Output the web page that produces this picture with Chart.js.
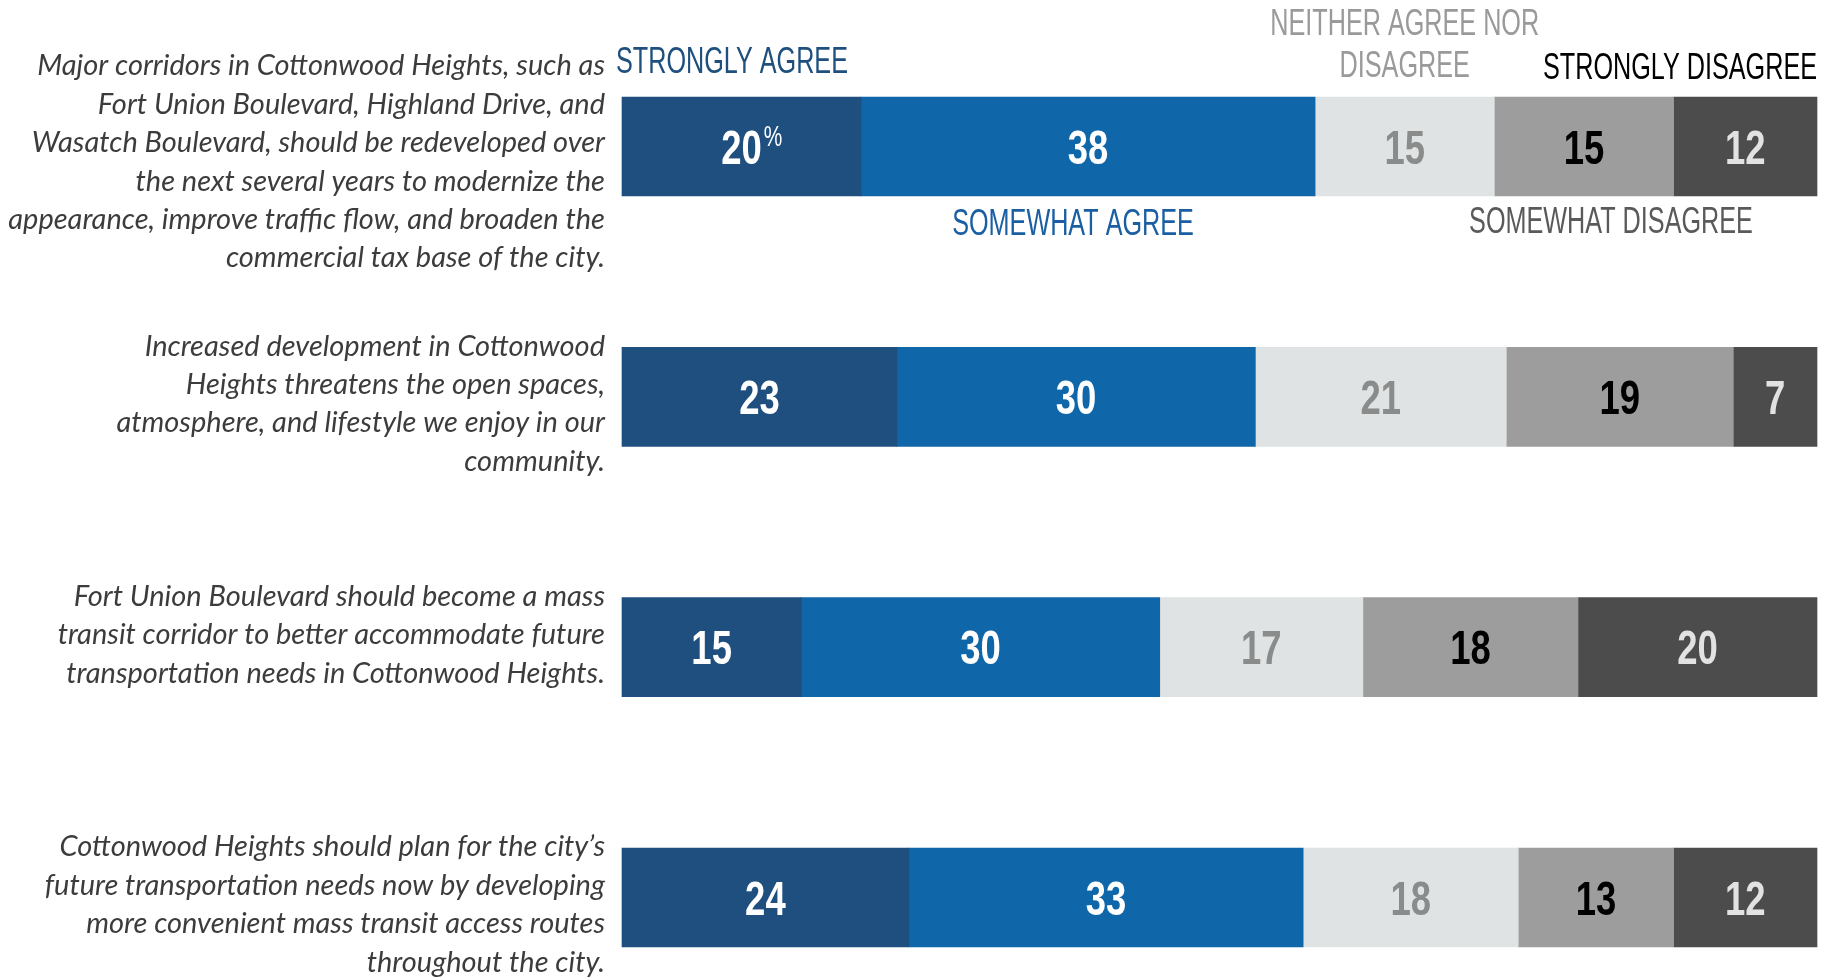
<!DOCTYPE html>
<html>
<head>
<meta charset="utf-8">
<script src="https://cdn.jsdelivr.net/npm/chart.js@4.4.1/dist/chart.umd.min.js"></script>
<style>
  html, body { margin: 0; padding: 0; background: #fff; }
  #wrap { width: 1836px; height: 977px; position: relative; }
</style>
</head>
<body>
<div id="wrap"><canvas id="chart"></canvas></div>
<script>
// questions (one per bar), split into the lines shown
const questions = [
  ['Major corridors in Cottonwood Heights, such as',
   'Fort Union Boulevard, Highland Drive, and',
   'Wasatch Boulevard, should be redeveloped over',
   'the next several years to modernize the',
   'appearance, improve traffic flow, and broaden the',
   'commercial tax base of the city.'],
  ['Increased development in Cottonwood',
   'Heights threatens the open spaces,',
   'atmosphere, and lifestyle we enjoy in our',
   'community.'],
  ['Fort Union Boulevard should become a mass',
   'transit corridor to better accommodate future',
   'transportation needs in Cottonwood Heights.'],
  ['Cottonwood Heights should plan for the city\u2019s',
   'future transportation needs now by developing',
   'more convenient mass transit access routes',
   'throughout the city.']
];

const responses = ['STRONGLY AGREE', 'SOMEWHAT AGREE', 'NEITHER AGREE NOR DISAGREE', 'SOMEWHAT DISAGREE', 'STRONGLY DISAGREE'];

// percent per response, one value per question
const stronglyAgree    = [20, 23, 15, 24];
const somewhatAgree    = [38, 30, 30, 33];
const neither          = [15, 21, 17, 18];
const somewhatDisagree = [15, 19, 18, 13];
const stronglyDisagree = [12, 7, 20, 12];

const barColors   = ['#1e4f7e', '#0f66a8', '#dfe3e4', '#9c9d9c', '#4b4c4b'];
const valueColors = ['#ffffff', '#ffffff', '#8a8c8b', '#000000', '#e2e2e2'];
const headColors  = ['#1e4f7e', '#1a5fa3', '#9a9a9a', '#5a5a5a', '#000000'];

const series = [stronglyAgree, somewhatAgree, neither, somewhatDisagree, stronglyDisagree];

// draw horizontally squeezed text (stand-in for a condensed face)
function condensed(ctx, text, x, y, font, sx, align, color) {
  ctx.save();
  ctx.font = font;
  ctx.fillStyle = color;
  ctx.textBaseline = 'alphabetic';
  const w = ctx.measureText(text).width * sx;
  let left = x;
  if (align === 'center') left = x - w / 2;
  else if (align === 'right') left = x - w;
  ctx.translate(left, y);
  ctx.scale(sx, 1);
  ctx.textAlign = 'left';
  ctx.fillText(text, 0, 0);
  ctx.restore();
  return w;
}

const labelPlugin = {
  id: 'labels',
  afterDatasetsDraw(chart) {
    const ctx = chart.ctx;
    const xs = chart.scales.x;
    const ys = chart.scales.y;
    const barH = 99;

    // values inside segments
    questions.forEach((q, i) => {
      let start = 0;
      const yc = ys.getPixelForValue(i);
      series.forEach((s, d) => {
        const v = s[i];
        const xc = (xs.getPixelForValue(start) + xs.getPixelForValue(start + v)) / 2;
        const w = condensed(ctx, String(v), xc, yc + 17, 'bold 48px "Liberation Sans"', 0.76, 'center', valueColors[d]);
        if (i === 0 && d === 0) {
          condensed(ctx, '%', xc + w / 2 + 2, yc - 1, '29px "Liberation Sans"', 0.72, 'left', valueColors[d]);
        }
        start += v;
      });

      // question text, right aligned left of the bar
      ctx.save();
      ctx.font = 'italic 29px Lato';
      ctx.fillStyle = '#3c3c3c';
      ctx.textAlign = 'right';
      ctx.textBaseline = 'middle';
      const lineH = 38.4;
      const top = yc - barH / 2 - 1 - Math.max(0, q.length - 4) * 15;
      q.forEach((line, k) => ctx.fillText(line, xs.left - 17, top + k * lineH));
      ctx.restore();
    });

    // response headers around the first bar
    const y0 = ys.getPixelForValue(0);
    const font = '36px "Liberation Sans"';
    const sx = 0.70;
    let cum = [0];
    series.forEach(s => cum.push(cum[cum.length - 1] + s[0]));
    const mid = d => (xs.getPixelForValue(cum[d]) + xs.getPixelForValue(cum[d + 1])) / 2;
    condensed(ctx, responses[0], xs.left - 6, y0 - 74, font, sx, 'left', headColors[0]);
    condensed(ctx, responses[1], mid(1) - 15, y0 + 88, font, sx, 'center', headColors[1]);
    condensed(ctx, 'NEITHER AGREE NOR', mid(2), y0 - 112, font, sx, 'center', headColors[2]);
    condensed(ctx, 'DISAGREE', mid(2), y0 - 70, font, sx, 'center', headColors[2]);
    condensed(ctx, responses[3], mid(3) + 27, y0 + 86, font, sx, 'center', headColors[3]);
    condensed(ctx, responses[4], xs.right, y0 - 68, font, sx, 'right', headColors[4]);
  }
};

new Chart(document.getElementById('chart'), {
  type: 'bar',
  data: {
    labels: questions.map(q => q.join(' ')),
    datasets: series.map((s, d) => ({
      label: responses[d],
      data: s,
      backgroundColor: barColors[d],
      borderWidth: 0,
      barThickness: 99,
      clip: false
    }))
  },
  options: {
    indexAxis: 'y',
    responsive: true,
    maintainAspectRatio: false,
    animation: false,
    layout: { padding: { left: 622, right: 19, top: 146.5, bottom: 79.5 } },
    scales: {
      x: { stacked: true, min: 0, max: 100, display: false },
      y: { stacked: true, offset: false, display: false }
    },
    plugins: { legend: { display: false }, tooltip: { enabled: false } }
  },
  plugins: [labelPlugin]
});
</script>
</body>
</html>
